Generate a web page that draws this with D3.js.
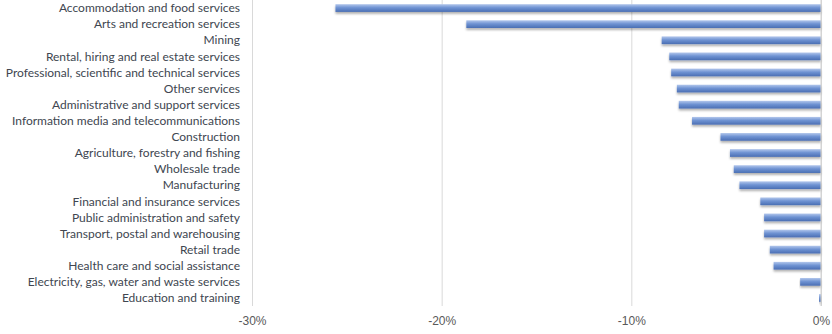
<!DOCTYPE html>
<html>
<head>
<meta charset="utf-8">
<script src="https://cdn.jsdelivr.net/npm/d3@7"></script>
<style>
  body { margin: 0; background: #fff; }
  svg { display: block; font-family: Lato, "Open Sans", sans-serif; }
</style>
</head>
<body>
<svg id="chart"></svg>
<script>
var width = 832;
var height = 334;

var industries = [
  'Accommodation and food services',
  'Arts and recreation services',
  'Mining',
  'Rental, hiring and real estate services',
  'Professional, scientific and technical services',
  'Other services',
  'Administrative and support services',
  'Information media and telecommunications',
  'Construction',
  'Agriculture, forestry and fishing',
  'Wholesale trade',
  'Manufacturing',
  'Financial and insurance services',
  'Public administration and safety',
  'Transport, postal and warehousing',
  'Retail trade',
  'Health care and social assistance',
  'Electricity, gas, water and waste services',
  'Education and training'
];

// change, in percent
var changes = [-25.6, -18.7, -8.4, -8.0, -7.9, -7.6, -7.5, -6.8, -5.3, -4.8, -4.6, -4.3, -3.2, -3.0, -3.0, -2.7, -2.5, -1.1, -0.1];

var xTicks = [-30, -20, -10, 0];

var svg = d3.select('#chart')
    .attr('width', width)
    .attr('height', height);

// Scales

var xScale = d3.scaleLinear()
    .domain([-30, 0])
    .range([252, 821]);

var yScale = d3.scaleBand()
    .domain(industries)
    .range([0, 306])
    .paddingInner(0.52)
    .paddingOuter(0.26);

// Bar gradient + shadow (Excel look)

var defs = svg.append('defs');

var grad = defs.append('linearGradient')
    .attr('id', 'barGrad')
    .attr('x1', 0).attr('y1', 0)
    .attr('x2', 0).attr('y2', 1);
grad.append('stop').attr('offset', '0%').attr('stop-color', '#b3c7ec');
grad.append('stop').attr('offset', '45%').attr('stop-color', '#6f93d3');
grad.append('stop').attr('offset', '100%').attr('stop-color', '#4a6eb3');

var shadow = defs.append('filter')
    .attr('id', 'shadow')
    .attr('x', '-5%').attr('y', '-50%')
    .attr('width', '110%').attr('height', '250%');
shadow.append('feDropShadow')
    .attr('dx', 0).attr('dy', 2)
    .attr('stdDeviation', 1.2)
    .attr('flood-color', '#000')
    .attr('flood-opacity', 0.3);

// Gridlines

var xAxis = d3.axisBottom(xScale)
    .tickValues(xTicks)
    .tickSize(-306)
    .tickFormat(d => d + '%');

var gx = svg.append('g')
    .attr('transform', 'translate(0,' + 306 + ')')
    .call(xAxis);

gx.select('.domain').remove();
gx.selectAll('.tick line')
    .attr('stroke', '#d9d9d9');
gx.selectAll('.tick text')
    .attr('y', 10)
    .attr('fill', '#595959')
    .style('font-size', '12px');

// Bars

svg.append('g')
    .selectAll('rect')
    .data(industries)
    .enter()
    .append('rect')
        .attr('x', (d, i) => xScale(changes[i]))
        .attr('y', d => yScale(d))
        .attr('width', (d, i) => xScale(0) - xScale(changes[i]))
        .attr('height', yScale.bandwidth())
        .attr('fill', 'url(#barGrad)')
        .attr('filter', 'url(#shadow)');

// 0% axis line
svg.append('line')
    .attr('x1', xScale(0)).attr('x2', xScale(0))
    .attr('y1', 0).attr('y2', 306)
    .attr('stroke', '#d0d0d0');

// Category labels

svg.append('g')
    .selectAll('text')
    .data(industries)
    .enter()
    .append('text')
        .attr('x', 240)
        .attr('y', d => yScale(d) + yScale.bandwidth() / 2)
        .attr('dy', '0.35em')
        .style('text-anchor', 'end')
        .style('font-size', '12px')
        .attr('fill', '#404650')
        .text(d => d);
</script>
</body>
</html>
